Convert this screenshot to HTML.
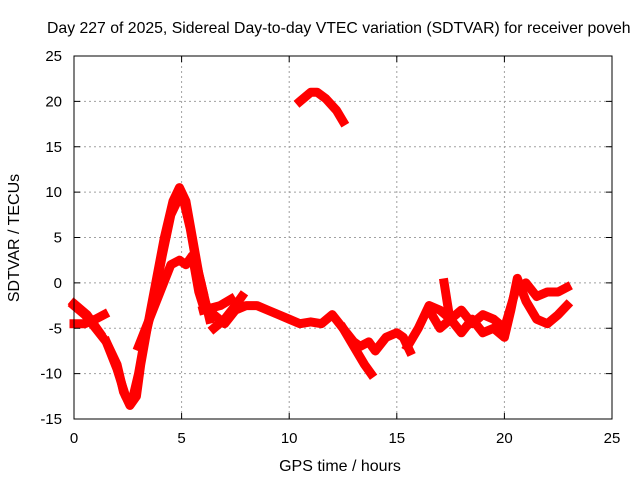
<!DOCTYPE html>
<html><head><meta charset="utf-8"><style>
body{margin:0;background:#fff;}
svg{display:block;font-family:"Liberation Sans",sans-serif;}
</style></head><body>
<svg id="chart" width="640" height="480">
<text x="47" y="33" font-size="15.8" fill="#000">Day 227 of 2025, Sidereal Day-to-day VTEC variation (SDTVAR) for receiver poveh</text>
<g id="grid"></g>
<g id="marks"></g>
<rect x="74" y="56" width="538" height="363" fill="none" stroke="#000" stroke-width="1"/>
<g id="ticks"></g>
<text x="340" y="471" font-size="16" text-anchor="middle">GPS time / hours</text>
<text transform="translate(19,238) rotate(-90)" font-size="16" text-anchor="middle">SDTVAR / TECUs</text>
</svg>
<script>
const xTicks=[0,5,10,15,20,25];
const yTicks=[-15,-10,-5,0,5,10,15,20,25];
const track1X=[0,0.5,1,1.5,2,2.3,2.6,2.9,3.1,3.4,3.8,4.2,4.6,4.9,5.2,5.5,5.8,6.1,6.3];
const track1Y=[-2.5,-3.5,-5,-6.5,-9,-12,-13.5,-12.5,-9,-5,0,5,9,10.5,9,5,1,-2,-4];
const track1bX=[1.5,2,2.4,2.7,3.0,3.3,3.7,4.1,4.5,4.8,5.1,5.4,5.7,6.0];
const track1bY=[-6.5,-9.5,-12.5,-13,-10,-6,-2,3,7.5,9,9,6,2,-1];
const track2X=[3.0,3.5,4,4.5,4.9,5.2,5.5,5.8,6.0];
const track2Y=[-7,-4,-1,2,2.5,2,3,-1,-2.5];
const track3X=[0,0.5,1,1.4];
const track3Y=[-4.5,-4.5,-4,-3.5];
const track4X=[0,0.6,1.2];
const track4Y=[-2.3,-3.5,-5.5];
const track5X=[6,6.5,7,7.5,8,8.5,9,9.5,10,10.5,11,11.5,12,12.5,13,13.3,13.7,14,14.5,15,15.3,15.6];
const track5Y=[-2,-3.5,-4.5,-3,-2.5,-2.5,-3,-3.5,-4,-4.5,-4.3,-4.5,-3.5,-5,-6.5,-7,-6.5,-7.5,-6,-5.5,-6,-7.5];
const track6X=[6.5,7,7.5,7.8];
const track6Y=[-5,-4,-2.5,-1.5];
const track7X=[6,6.8,7.3];
const track7Y=[-3,-2.5,-1.8];
const track8X=[12.5,13,13.5,13.8];
const track8Y=[-5,-7,-9,-10];
const track9X=[15.5,16,16.5,17,17.5,18,18.5,19,19.5,20,20.5,21,21.5,22,22.5,22.9];
const track9Y=[-7,-5,-2.5,-3,-4,-3,-4.5,-3.5,-4,-5,-1,0,-1.5,-1,-1,-0.5];
const track10X=[16.5,17,17.5,18,18.5,19,19.5,20,20.3,20.6,21,21.5,22,22.5,22.9];
const track10Y=[-3,-5,-4,-5.5,-4,-5.5,-5,-6,-3,0.5,-2,-4,-4.5,-3.5,-2.5];
const track11X=[10.5,11,11.3,11.7,12.2,12.5];
const track11Y=[20,21,21,20.3,19,17.8];
const track12X=[17.2,17.4];
const track12Y=[0,-3];
const tracks=[[track1X,track1Y],[track1bX,track1bY],[track2X,track2Y],[track3X,track3Y],[track4X,track4Y],[track5X,track5Y],[track6X,track6Y],[track7X,track7Y],[track8X,track8Y],[track9X,track9Y],[track10X,track10Y],[track11X,track11Y],[track12X,track12Y]];
const L=74,R=612,T=56,B=419,xMin=0,xMax=25,yMin=-15,yMax=25;
function sx(v){return L+(v-xMin)/(xMax-xMin)*(R-L);}
function sy(v){return B-(v-yMin)/(yMax-yMin)*(B-T);}
const NS="http://www.w3.org/2000/svg";
const grid=document.getElementById('grid'),ticks=document.getElementById('ticks'),marks=document.getElementById('marks');
function mk(t,a,p){const e=document.createElementNS(NS,t);for(const k in a)e.setAttribute(k,a[k]);p.appendChild(e);return e;}
xTicks.forEach(v=>{
 const x=sx(v);
 if(v>xMin&&v<xMax){const g=mk('line',{x1:x,x2:x,y1:T,y2:B,stroke:'#a0a0a0','stroke-dasharray':'2,3'},grid);
 
 }
 mk('line',{x1:x,x2:x,y1:B,y2:B-6,stroke:'#000'},ticks);
 mk('line',{x1:x,x2:x,y1:T,y2:T+6,stroke:'#000'},ticks);
 const t=mk('text',{x:x,y:B+24,'font-size':15,'text-anchor':'middle'},ticks);t.textContent=v;
 
 
});
yTicks.forEach(v=>{
 const y=sy(v);
 if(v>yMin&&v<yMax){const g=mk('line',{x1:L,x2:R,y1:y,y2:y,stroke:'#a0a0a0','stroke-dasharray':'2,3'},grid);
 
 }
 mk('line',{x1:L,x2:L+6,y1:y,y2:y,stroke:'#000'},ticks);
 mk('line',{x1:R,x2:R-6,y1:y,y2:y,stroke:'#000'},ticks);
 const t=mk('text',{x:L-12,y:y+5,'font-size':15,'text-anchor':'end'},ticks);t.textContent=v;
 
 
});
tracks.forEach(tr=>{
 const pts=tr[0].map((x,i)=>sx(x)+','+sy(tr[1][i])).join(' ');
 const p=mk('polyline',{points:pts,fill:'none',stroke:'#ff0000','stroke-width':9,'stroke-linejoin':'round','stroke-linecap':'square'},marks);
 
 
});
</script>
</body></html>
